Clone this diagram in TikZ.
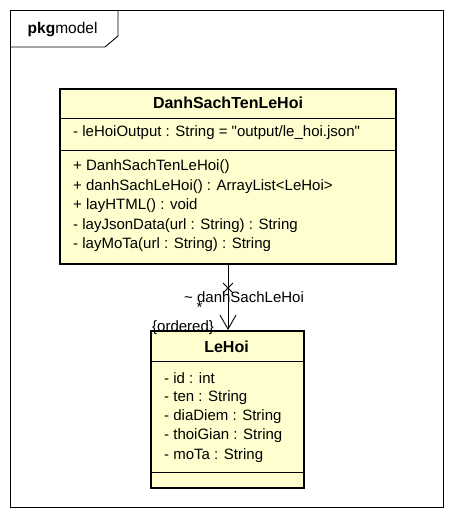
\documentclass[tikz,border=0pt]{standalone}
\usepackage{fontspec}
\setmainfont{Liberation Sans}
\newfontfamily\plainfont{Liberation Sans}
\usetikzlibrary{arrows.meta}
\begin{document}
\begin{tikzpicture}[x=1pt,y=-1pt,
  classbox/.style={draw=black, line width=2.4pt, fill=classfill, inner sep=0pt},
  sep/.style={draw=black, line width=0.9pt},
  member/.style={anchor=west, inner sep=0pt, font=\plainfont\fontsize{15}{17}\selectfont},
  cname/.style={inner sep=0pt, font=\plainfont\fontsize{16}{18}\selectfont\bfseries},
  thin/.style={draw=black, line width=0.9pt}]
\definecolor{classfill}{HTML}{FEFECE}
\useasboundingbox (0,0) rectangle (454,520);
% package frame
\draw[thin] (10,10) rectangle (443,507);
\draw[thin] (10,47) -- (105,47) -- (118,36) -- (118,10);
\node[inner sep=0pt, anchor=west, font=\plainfont\fontsize{15.5}{17}\selectfont] (pkg) at (27.5,30) {\textbf{pkg}model};
% class DanhSachTenLeHoi
\node[classbox, minimum width=336pt, minimum height=175pt, anchor=north west] (dsth) at (59,88) {};
\draw[sep] (59,118) -- (395,118);
\draw[sep] (59,150) -- (395,150);
\node[cname] (dsthname) at (228,103) {DanhSachTenLeHoi};
\node[member] (a1) at (73,133) {- leHoiOutput : String = "output/le\_hoi.json"};
\node[member] (m1) at (73,167) {+ DanhSachTenLeHoi()};
\node[member] (m2) at (73,186.5) {+ danhSachLeHoi() : ArrayList<LeHoi>};
\node[member] (m3) at (73,206) {+ layHTML() : void};
\node[member] (m4) at (73,225.5) {- layJsonData(url : String) : String};
\node[member] (m5) at (73,245) {- layMoTa(url : String) : String};
% class LeHoi
\node[classbox, minimum width=153pt, minimum height=157pt, anchor=north west] (lehoi) at (150,330) {};
\draw[sep] (150,361) -- (303,361);
\draw[sep] (150,472) -- (303,472);
\node[cname] (lehoiname) at (226.5,347) {LeHoi};
\node[member] (b1) at (164,378) {- id : int};
\node[member] (b2) at (164,397.5) {- ten : String};
\node[member] (b3) at (164,417) {- diaDiem : String};
\node[member] (b4) at (164,436) {- thoiGian : String};
\node[member] (b5) at (164,455.5) {- moTa : String};
% association
\coordinate (src) at (228,263);
\coordinate (dst) at (228,330);
\draw[thin, -{Straight Barb[length=14pt,width=16pt,line width=0.9pt]}] (src) -- (dst);
\coordinate (xm) at (228,288);
\draw[thin] ([shift={(-5,-5)}]xm) -- ([shift={(5,5)}]xm);
\draw[thin] ([shift={(-5,5)}]xm) -- ([shift={(5,-5)}]xm);
\node[member] (rolelbl) at (184,297) {\textasciitilde{} danhSachLeHoi};
\node[inner sep=0pt, font=\plainfont\fontsize{15}{17}\selectfont] (mult) at (199.5,307) {*};
\node[member] (ord) at (152,328) {\{ordered\}};
\end{tikzpicture}
\end{document}
